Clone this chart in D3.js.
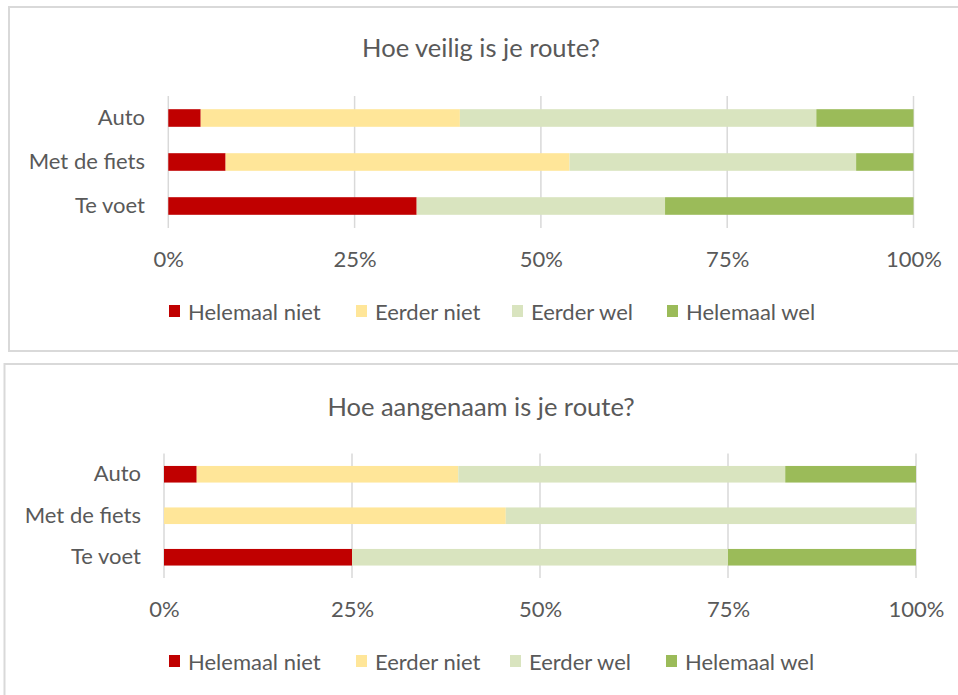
<!DOCTYPE html>
<html><head><meta charset="utf-8">
<script src="https://cdn.jsdelivr.net/npm/d3@7"></script>
<style>body{margin:0;background:#fff}svg{display:block}</style>
</head><body>
<svg id="c" width="958" height="695"></svg>
<script>
const categories = ["Auto", "Met de fiets", "Te voet"];
const seriesNames = ["Helemaal niet", "Eerder niet", "Eerder wel", "Helemaal wel"];
const tickValues = [0, 25, 50, 75, 100];
const tickLabels = ["0%", "25%", "50%", "75%", "100%"];
const titles = ["Hoe veilig is je route?", "Hoe aangenaam is je route?"];

// Chart 1: Hoe veilig (percent per category)
const veiligHelemaalNiet = [4.35, 7.69, 33.33];
const veiligEerderNiet   = [34.78, 46.15, 0];
const veiligEerderWel    = [47.83, 38.46, 33.33];
const veiligHelemaalWel  = [13.04, 7.69, 33.34];
// Chart 2: Hoe aangenaam
const aangenaamHelemaalNiet = [4.35, 0, 25];
const aangenaamEerderNiet   = [34.78, 45.45, 0];
const aangenaamEerderWel    = [43.48, 54.55, 50];
const aangenaamHelemaalWel  = [17.39, 0, 25];

const colors = ["#C00000", "#FFE699", "#D9E4BF", "#9BBB59"];
const FONT = "Lato, 'Open Sans', sans-serif";
const TXT = "#595959";
const LABEL_SIZE = 22;
const TITLE_SIZE = 25.5;

const svg = d3.select("#c");

function drawChart(opt, seriesVals) {
  const g = svg.append("g");
  g.append("rect").attr("x", opt.frame[0]).attr("y", opt.frame[1])
    .attr("width", opt.frame[2]).attr("height", opt.frame[3])
    .attr("fill", "#fff").attr("stroke", "#d9d9d9").attr("stroke-width", 2);
  g.append("text").attr("x", opt.titleX).attr("y", opt.titleY)
    .attr("text-anchor", "middle").attr("dominant-baseline", "central")
    .attr("font-family", FONT).attr("font-size", TITLE_SIZE).attr("fill", TXT)
    .text(opt.title);

  const x = d3.scaleLinear().domain([0, 100]).range([opt.x0, opt.x1]);
  const y = d3.scaleBand().domain(categories).range([opt.y0, opt.y1]).paddingInner(0.6).paddingOuter(0.3);

  g.append("g").selectAll("line").data(tickValues).join("line")
    .attr("x1", d => x(d)).attr("x2", d => x(d))
    .attr("y1", opt.y0).attr("y2", opt.y1)
    .attr("stroke", "#d9d9d9").attr("stroke-width", 1.5);

  const rows = categories.map((c, i) => {
    const o = {cat: c};
    seriesNames.forEach((s, j) => o[s] = seriesVals[j][i]);
    return o;
  });
  const stack = d3.stack().keys(seriesNames)(rows);
  g.append("g").selectAll("g").data(stack).join("g")
    .attr("fill", (d, i) => colors[i])
    .selectAll("rect").data(d => d).join("rect")
    .attr("x", d => x(d[0])).attr("width", d => x(d[1]) - x(d[0]))
    .attr("y", d => y(d.data.cat)).attr("height", y.bandwidth());

  const ay = g.append("g").attr("transform", `translate(${opt.catX},0)`)
    .call(d3.axisLeft(y).tickSize(0).tickPadding(0));
  ay.select(".domain").remove();
  ay.selectAll("text").attr("font-family", FONT).attr("font-size", LABEL_SIZE).attr("fill", TXT);

  const ax = g.append("g").attr("transform", `translate(0,${opt.tickY})`)
    .call(d3.axisBottom(x).tickValues(tickValues).tickFormat((d, i) => tickLabels[i]).tickSize(0).tickPadding(0));
  ax.select(".domain").remove();
  ax.selectAll("text").attr("font-family", FONT).attr("font-size", LABEL_SIZE).attr("fill", TXT)
    .attr("dy", null).attr("dominant-baseline", "central");

  const lg = g.append("g").attr("transform", `translate(0,${opt.legY})`);
  const items = lg.selectAll("g").data(seriesNames).join("g")
    .attr("transform", (d, i) => `translate(${opt.legX[i]},0)`);
  items.append("rect").attr("x", 0).attr("y", -6).attr("width", 11).attr("height", 12)
    .attr("fill", (d, i) => colors[i]);
  items.append("text").attr("x", 19).attr("y", 0).attr("dominant-baseline", "central")
    .attr("font-family", FONT).attr("font-size", LABEL_SIZE).attr("fill", TXT).text(d => d);
}

drawChart({
  frame: [9, 7, 960, 344], title: titles[0], titleX: 481, titleY: 47,
  x0: 168.3, x1: 913.5, y0: 96, y1: 228, catX: 145, tickY: 258, legY: 311,
  legX: [169, 356, 512, 667]
}, [veiligHelemaalNiet, veiligEerderNiet, veiligEerderWel, veiligHelemaalWel]);

drawChart({
  frame: [4.5, 364, 960, 340], title: titles[1], titleX: 481, titleY: 406,
  x0: 164, x1: 916, y0: 453.5, y1: 578, catX: 141, tickY: 608, legY: 661,
  legX: [169, 356, 510, 666]
}, [aangenaamHelemaalNiet, aangenaamEerderNiet, aangenaamEerderWel, aangenaamHelemaalWel]);
</script>
</body></html>
